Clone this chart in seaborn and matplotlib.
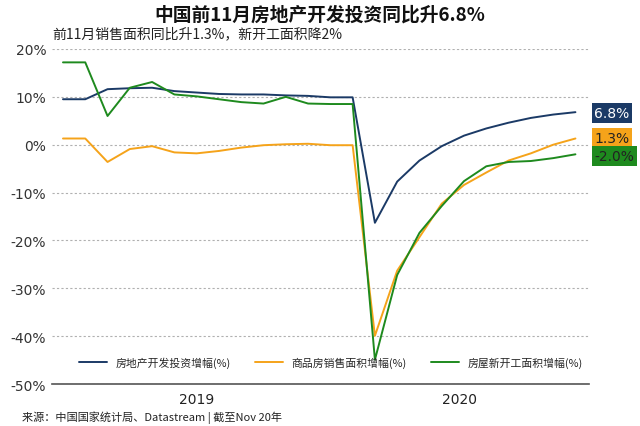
import pandas as pd
import numpy as np
import matplotlib.pyplot as plt
import seaborn as sns

# Dec 2018 .. Nov 2020 (Jan values repeat the previous month, Jan-Feb is reported together)
invest = [9.5, 9.5, 11.6, 11.8, 11.9, 11.2, 10.9, 10.6, 10.5, 10.5, 10.3, 10.2, 9.9, 9.9,
          -16.3, -7.7, -3.3, -0.3, 1.9, 3.4, 4.6, 5.6, 6.3, 6.8]
sales = [1.3, 1.3, -3.6, -0.9, -0.3, -1.6, -1.8, -1.3, -0.6, -0.1, 0.1, 0.2, -0.1, -0.1,
         -39.9, -26.3, -19.3, -12.3, -8.4, -5.8, -3.3, -1.8, 0.0, 1.3]
starts = [17.2, 17.2, 6.0, 11.9, 13.1, 10.5, 10.1, 9.5, 8.9, 8.6, 10.0, 8.6, 8.5, 8.5,
          -44.9, -27.2, -18.4, -12.8, -7.6, -4.5, -3.6, -3.4, -2.8, -2.0]
series = ["房地产开发投资增幅(%)", "商品房销售面积增幅(%)", "房屋新开工面积增幅(%)"]
end_labels = ["6.8%", "1.3%", "-2.0%"]
years = ["2019", "2020"]

colors = ["#1b3a66", "#f5a31a", "#1e8a1e"]
cjk = ["Noto Sans CJK SC", "DejaVu Sans"]

df = pd.DataFrame({
    "month": list(range(len(invest))) * 3,
    "value": invest + sales + starts,
    "series": [series[0]] * len(invest) + [series[1]] * len(sales) + [series[2]] * len(starts),
})

sns.set_style("white")
plt.rcParams["font.family"] = ["DejaVu Sans"]

fig = plt.figure(figsize=(6.4, 4.27), dpi=100)
ax = fig.add_axes([0.081, 0.098, 0.839, 0.785])

sns.lineplot(data=df, x="month", y="value", hue="series", palette=colors,
             linewidth=1.4, ax=ax, legend=False)

ax.set_ylim(-50, 20)
ax.set_xlim(-0.5, 23.6)
ax.set_yticks(np.arange(-50, 21, 10))
ax.set_yticklabels([f"{v}%" for v in range(-50, 21, 10)], fontsize=10, color="#333333")
ax.yaxis.grid(True, linestyle=(0, (2, 2)), color="#b0b0b0", linewidth=0.8)
ax.set_axisbelow(True)

ax.set_xticks([6, 17.8])
ax.set_xticklabels(years, fontsize=10, color="#222222")
ax.set_xticks(np.arange(0, 22, 3), minor=True)
ax.tick_params(axis="x", which="major", length=0, pad=6)
ax.tick_params(axis="x", which="minor", length=3, direction="inout", color="#333333")
ax.tick_params(axis="y", length=0, pad=4)
ax.set_xlabel("")
ax.set_ylabel("")

for s in ["top", "right", "left"]:
    ax.spines[s].set_visible(False)
ax.spines["bottom"].set_color("#555555")
ax.spines["bottom"].set_linewidth(1.2)

# end value boxes
txt_colors = ["white", "#222222", "#222222"]
last = [invest[-1], sales[-1], starts[-1]]
offsets = [-0.2, 0.1, -0.4]
for v, lab, c, tc, off in zip(last, end_labels, colors, txt_colors, offsets):
    ax.text(23.85, v + off, lab, ha="left", va="center", fontsize=10, color=tc,
            bbox=dict(boxstyle="square,pad=0.2", fc=c, ec="none"), clip_on=False)

handles = [plt.Line2D([], [], color=c, linewidth=1.4) for c in colors]
leg = ax.legend(handles, series, loc="lower center", bbox_to_anchor=(0.52, 0.02), ncol=3,
                frameon=False, handlelength=2.6, columnspacing=2.2,
                prop={"family": cjk, "size": 7.8})

fig.text(0.5, 0.965, "中国前11月房地产开发投资同比升6.8%", ha="center", va="center",
         fontsize=13.5, fontweight="bold", family=cjk, color="#111111")
fig.text(0.081, 0.92, "前11月销售面积同比升1.3%，新开工面积降2%", ha="left", va="center",
         fontsize=10, family=cjk, color="#222222")
fig.text(0.034, 0.022, "来源：中国国家统计局、Datastream | 截至Nov 20年", ha="left", va="center",
         fontsize=8, family=cjk, color="#222222")

fig.savefig("out.png", dpi=100)
